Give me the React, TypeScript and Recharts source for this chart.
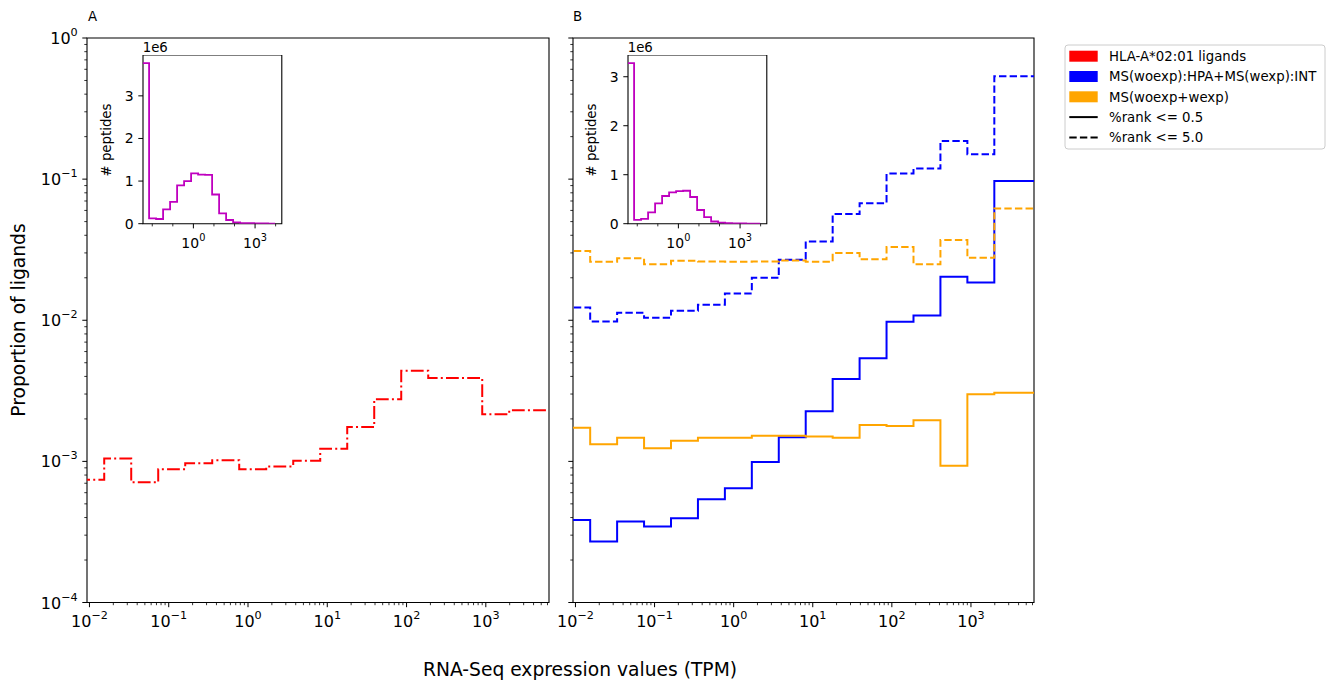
import { LineChart, Line, XAxis, YAxis, ReferenceArea } from "recharts";

const FONT = "'DejaVu Sans', sans-serif";

// histogram bin edges (TPM), shared by both panels and by the insets
const binEdges = [
  0.0032, 0.00701, 0.01535, 0.03363, 0.07368, 0.1614, 0.3536, 0.7747, 1.697,
  3.719, 8.147, 17.85, 39.1, 85.67, 187.7, 411.2, 900.8, 1974, 4324, 9472,
];

// panel A: proportion of ligands per expression bin (bins start at binEdges[1])
const hlaLigands = [
  7.4e-4, 1.05e-3, 7.1e-4, 8.8e-4, 9.7e-4, 1.02e-3, 8.8e-4, 9.2e-4, 1.01e-3,
  1.23e-3, 1.75e-3, 2.75e-3, 4.39e-3, 3.9e-3, 3.9e-3, 2.16e-3, 2.3e-3,
];

// panel B
const hpaIntRank05 = [
  3.85e-4, 2.7e-4, 3.75e-4, 3.45e-4, 3.95e-4, 5.4e-4, 6.45e-4, 9.9e-4, 1.48e-3,
  2.27e-3, 3.83e-3, 5.37e-3, 9.77e-3, 1.08e-2, 2.03e-2, 1.85e-2, 9.7e-2,
];
const hpaIntRank50 = [
  1.23e-2, 9.8e-3, 1.13e-2, 1.04e-2, 1.17e-2, 1.29e-2, 1.55e-2, 2.0e-2, 2.68e-2,
  3.62e-2, 5.65e-2, 6.75e-2, 0.1096, 0.119, 0.186, 0.15, 0.535,
];
const msAllRank05 = [
  1.73e-3, 1.32e-3, 1.47e-3, 1.24e-3, 1.4e-3, 1.47e-3, 1.47e-3, 1.52e-3, 1.52e-3,
  1.5e-3, 1.47e-3, 1.81e-3, 1.78e-3, 1.96e-3, 9.3e-4, 2.99e-3, 3.07e-3,
];
const msAllRank50 = [
  3.09e-2, 2.6e-2, 2.75e-2, 2.49e-2, 2.64e-2, 2.61e-2, 2.6e-2, 2.61e-2, 2.65e-2,
  2.6e-2, 2.99e-2, 2.7e-2, 3.31e-2, 2.49e-2, 3.7e-2, 2.77e-2, 6.2e-2,
];

// insets: # peptides per bin (bins start at binEdges[0])
const peptidesA = [
  3770000, 125000, 110000, 335000, 510000, 900000, 1000000, 1180000, 1150000,
  1145000, 685000, 240000, 86000, 30000, 15000, 10000, 6000, 4000, 2000,
];
const peptidesB = [
  3280000, 78000, 100000, 230000, 415000, 565000, 640000, 665000, 672000,
  545000, 280000, 132000, 45000, 23000, 12000, 7000, 4000, 2000, 1000,
];

const xMajorTicks = [0.01, 0.1, 1, 10, 100, 1000];
const yMajorTicks = [1e-4, 1e-3, 1e-2, 1e-1, 1];
const insetXMajorTicks = [1, 1000];
const insetXMinorTicks = [0.01, 0.1, 10, 100, 10000];
const insetYTicks = [0, 1e6, 2e6, 3e6];

const legendItems = [
  { label: "HLA-A*02:01 ligands", color: "#ff0000", kind: "patch" },
  { label: "MS(woexp):HPA+MS(wexp):INT", color: "#0000ff", kind: "patch" },
  { label: "MS(woexp+wexp)", color: "#ffa500", kind: "patch" },
  { label: "%rank <= 0.5", color: "#000", kind: "solid" },
  { label: "%rank <= 5.0", color: "#000", kind: "dashed" },
];

const X_MIN = 0.00931;
const X_MAX = 6266;
const Y_MIN = 1e-4;
const Y_MAX = 1;
const CH_W = 560;
const CH_H = 684;
const TOP = 38;
const Y_AXIS_W = 87;
const X_AXIS_H = 81.5;
const AXIS_Y = CH_H - X_AXIS_H;

const DASH = "7.4 3.2";
const DASH_DOT = "12.8 3.2 2 3.2";

function logMinors(lo: number, hi: number) {
  const out: number[] = [];
  for (let e = Math.floor(Math.log10(lo)); e <= Math.ceil(Math.log10(hi)); e++) {
    for (let k = 2; k <= 9; k++) {
      const v = k * Math.pow(10, e);
      if (v > lo && v < hi) out.push(v);
    }
  }
  return out;
}

const xTicks = [...xMajorTicks, ...logMinors(X_MIN, X_MAX)];
const yTicks = [...yMajorTicks, ...logMinors(Y_MIN, Y_MAX)];

function expText(v: number) {
  return String(Math.round(Math.log10(v))).replace("-", "\u2212");
}

// rows for a step line: value i spans binEdges[i + offset] .. next edge
function stepRows(series: Record<string, number[]>, offset: number) {
  const keys = Object.keys(series);
  const n = series[keys[0]].length;
  const rows: Record<string, number>[] = [];
  for (let i = 0; i <= n; i++) {
    const row: Record<string, number> = {
      x: i < n ? binEdges[i + offset] : binEdges[binEdges.length - 1],
    };
    keys.forEach((k) => (row[k] = series[k][Math.min(i, n - 1)]));
    rows.push(row);
  }
  return rows;
}

const mainXTick = (props: any) => {
  const { x, payload } = props;
  const v = payload.value;
  const major = xMajorTicks.includes(v);
  return (
    <g>
      <line x1={x} x2={x} y1={AXIS_Y} y2={AXIS_Y + (major ? 4.7 : 2.7)} stroke="#000" strokeWidth={major ? 1 : 0.8} />
      {major && (
        <text x={x} y={626.5} textAnchor="middle" fontSize={16} fontFamily={FONT} fill="#000">
          10
          <tspan dy={-8} fontSize={11.2}>{expText(v)}</tspan>
        </text>
      )}
    </g>
  );
};

const mainYTick = (labels: boolean) => (props: any) => {
  const { y, payload } = props;
  const v = payload.value;
  const major = yMajorTicks.includes(v);
  return (
    <g>
      <line x1={Y_AXIS_W - (major ? 4.7 : 2.7)} x2={Y_AXIS_W} y1={y} y2={y} stroke="#000" strokeWidth={major ? 1 : 0.8} />
      {major && labels && (
        <text x={Y_AXIS_W - 9.3} y={y + 6} textAnchor="end" fontSize={16} fontFamily={FONT} fill="#000">
          10
          <tspan dy={-8} fontSize={11.2}>{expText(v)}</tspan>
        </text>
      )}
    </g>
  );
};

function MainPanel({
  left,
  rightMargin,
  labels,
  rows,
  lines,
}: {
  left: number;
  rightMargin: number;
  labels: boolean;
  rows: Record<string, number>[];
  lines: { key: string; color: string; dash?: string }[];
}) {
  return (
    <div style={{ position: "absolute", left, top: 0 }}>
      <LineChart width={CH_W} height={CH_H} data={rows} margin={{ top: TOP, right: rightMargin, left: 0, bottom: 0 }}>
        <XAxis
          dataKey="x"
          type="number"
          scale="log"
          domain={[X_MIN, X_MAX]}
          allowDataOverflow
          ticks={xTicks}
          interval={0}
          height={X_AXIS_H}
          axisLine={false}
          tickLine={false}
          tick={mainXTick}
        />
        <YAxis
          type="number"
          scale="log"
          domain={[Y_MIN, Y_MAX]}
          allowDataOverflow
          ticks={yTicks}
          interval={0}
          width={Y_AXIS_W}
          axisLine={false}
          tickLine={false}
          tick={mainYTick(labels)}
        />
        {lines.map((l) => (
          <Line
            key={l.key}
            dataKey={l.key}
            type="stepAfter"
            stroke={l.color}
            strokeWidth={2}
            strokeDasharray={l.dash}
            dot={false}
            activeDot={false}
            isAnimationActive={false}
          />
        ))}
        <ReferenceArea x1={X_MIN} x2={X_MAX} y1={Y_MIN} y2={Y_MAX} fill="none" stroke="#000" strokeWidth={1.1} />
      </LineChart>
    </div>
  );
}

const IN_X_MIN = 0.003548;
const IN_X_MAX = 19953;
const IN_YW = 45;
const IN_XH = 35;
const IN_PW = 138.8;
const IN_PH = 168.7;
const IN_TOP = 55;

const insetXTick = (props: any) => {
  const { x, payload } = props;
  const v = payload.value;
  const major = insetXMajorTicks.includes(v);
  return (
    <g>
      <line x1={x} x2={x} y1={IN_PH} y2={IN_PH + (major ? 4.7 : 2.7)} stroke="#000" strokeWidth={major ? 1 : 0.8} />
      {major && (
        <text x={x} y={IN_PH + 24.5} textAnchor="middle" fontSize={14} fontFamily={FONT} fill="#000">
          10
          <tspan dy={-7} fontSize={9.8}>{expText(v)}</tspan>
        </text>
      )}
    </g>
  );
};

const insetYTick = (props: any) => {
  const { y, payload } = props;
  return (
    <g>
      <line x1={IN_YW - 4.7} x2={IN_YW} y1={y} y2={y} stroke="#000" strokeWidth={1} />
      <text x={IN_YW - 9.3} y={y + 5} textAnchor="end" fontSize={14} fontFamily={FONT} fill="#000">
        {payload.value / 1e6}
      </text>
    </g>
  );
};

function Inset({ plotLeft, counts }: { plotLeft: number; counts: number[] }) {
  const rows = stepRows({ n: counts }, 0);
  const yMax = Math.max(...counts) * 1.05;
  return (
    <div style={{ position: "absolute", left: plotLeft - IN_YW, top: IN_TOP }}>
      <LineChart width={IN_YW + IN_PW + 4} height={IN_PH + IN_XH} data={rows} margin={{ top: 0, right: 4, left: 0, bottom: 0 }}>
        <XAxis
          dataKey="x"
          type="number"
          scale="log"
          domain={[IN_X_MIN, IN_X_MAX]}
          allowDataOverflow
          ticks={[...insetXMajorTicks, ...insetXMinorTicks]}
          interval={0}
          height={IN_XH}
          axisLine={false}
          tickLine={false}
          tick={insetXTick}
        />
        <YAxis
          type="number"
          domain={[0, yMax]}
          allowDataOverflow
          ticks={insetYTicks}
          interval={0}
          width={IN_YW}
          axisLine={false}
          tickLine={false}
          tick={insetYTick}
        />
        <ReferenceArea x1={IN_X_MIN} x2={IN_X_MAX} y1={0} y2={yMax} fill="#fff" fillOpacity={1} stroke="none" />
        <Line dataKey="n" type="stepAfter" stroke="#bf00bf" strokeWidth={1.8} dot={false} activeDot={false} isAnimationActive={false} />
        <ReferenceArea x1={IN_X_MIN} x2={IN_X_MAX} y1={0} y2={yMax} fill="none" stroke="#000" strokeWidth={1.1} />
      </LineChart>
    </div>
  );
}

export default function App() {
  const rowsA = stepRows({ hla: hlaLigands }, 1);
  const rowsB = stepRows(
    { hpa05: hpaIntRank05, hpa50: hpaIntRank50, ms05: msAllRank05, ms50: msAllRank50 },
    1
  );

  return (
    <div style={{ position: "absolute", left: 0, top: 0, width: 1336, height: 684, background: "#fff", fontFamily: FONT }}>
      <MainPanel left={0} rightMargin={11} labels rows={rowsA} lines={[{ key: "hla", color: "#ff0000", dash: DASH_DOT }]} />
      <MainPanel
        left={486}
        rightMargin={12}
        labels={false}
        rows={rowsB}
        lines={[
          { key: "hpa05", color: "#0000ff" },
          { key: "hpa50", color: "#0000ff", dash: DASH },
          { key: "ms05", color: "#ffa500" },
          { key: "ms50", color: "#ffa500", dash: DASH },
        ]}
      />
      <Inset plotLeft={142.7} counts={peptidesA} />
      <Inset plotLeft={627.7} counts={peptidesB} />

      <svg width={1336} height={684} style={{ position: "absolute", left: 0, top: 0, pointerEvents: "none" }}>
        <text x={88} y={20.5} fontSize={13.3} fontFamily={FONT}>A</text>
        <text x={573} y={20.5} fontSize={13.3} fontFamily={FONT}>B</text>
        <text transform="translate(24.5,320) rotate(-90)" textAnchor="middle" fontSize={18.7} fontFamily={FONT}>
          Proportion of ligands
        </text>
        <text x={580} y={675.5} textAnchor="middle" fontSize={18.7} fontFamily={FONT}>
          RNA-Seq expression values (TPM)
        </text>
        {[142.7, 627.7].map((l) => (
          <g key={l}>
            <text x={l} y={52} fontSize={13.3} fontFamily={FONT}>1e6</text>
            <text transform={`translate(${l - 32.2},140) rotate(-90)`} textAnchor="middle" fontSize={13.3} fontFamily={FONT}>
              # peptides
            </text>
          </g>
        ))}

        <rect x={1065} y={45} width={260} height={104} rx={3} fill="#fff" fillOpacity={0.8} stroke="#cccccc" strokeWidth={1} />
        {legendItems.map((it, i) => {
          const cy = 56.2 + i * 20.3;
          return (
            <g key={it.label}>
              {it.kind === "patch" ? (
                <rect x={1069.3} y={cy - 5.5} width={28.4} height={11} fill={it.color} />
              ) : (
                <line
                  x1={1069.3}
                  x2={1097.7}
                  y1={cy}
                  y2={cy}
                  stroke={it.color}
                  strokeWidth={2}
                  strokeDasharray={it.kind === "dashed" ? DASH : undefined}
                />
              )}
              <text x={1109} y={cy + 4.8} fontSize={13.3} fontFamily={FONT}>
                {it.label}
              </text>
            </g>
          );
        })}
      </svg>
    </div>
  );
}
